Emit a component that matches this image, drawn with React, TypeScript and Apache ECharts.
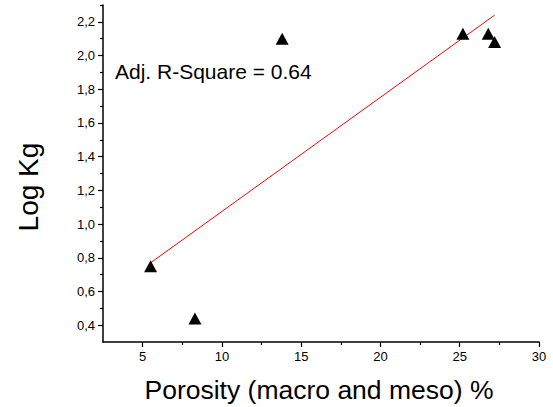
import React, { useEffect, useRef } from "react";
import * as echarts from "echarts";

const porosity = [5.5, 8.3, 13.8, 25.2, 26.8, 27.2];
const logKg = [0.75, 0.44, 2.1, 2.13, 2.13, 2.08];
const fitX = [5.5, 27.2];
const fitY = [0.77, 2.24];
const annotation = "Adj. R-Square = 0.64";
const xTitle = "Porosity (macro and meso) %";
const yTitle = "Log Kg";
const xMajor = [5, 10, 15, 20, 25, 30];
const xMinor = [7.5, 12.5, 17.5, 22.5, 27.5];
const yMajor = [0.4, 0.6, 0.8, 1.0, 1.2, 1.4, 1.6, 1.8, 2.0, 2.2];
const yMinor = [0.5, 0.7, 0.9, 1.1, 1.3, 1.5, 1.7, 1.9, 2.1, 2.3];

export default function App() {
  const ref = useRef<HTMLDivElement>(null);
  useEffect(() => {
    document.body.style.margin = "0";
    const chart = echarts.init(ref.current!, null, { renderer: "svg" });
    const font = "Liberation Sans, Arial, sans-serif";
    const tickStyle = { color: "#000", width: 1.2 };
    chart.setOption({
      animation: false,
      backgroundColor: "#fff",
      grid: { left: 103, right: 14, top: 5, bottom: 65 },
      xAxis: [
        {
          type: "value",
          min: 2.5,
          max: 30,
          axisLine: { onZero: false, lineStyle: { color: "#000", width: 1.5 } },
          axisTick: { show: true, length: 5, lineStyle: tickStyle, customValues: xMajor },
          axisLabel: { fontFamily: font, fontSize: 13, color: "#000", margin: 8, customValues: xMajor },
          splitLine: { show: false },
        },
        {
          type: "value",
          min: 2.5,
          max: 30,
          position: "bottom",
          axisLine: { show: false },
          axisLabel: { show: false },
          splitLine: { show: false },
          axisTick: { show: true, length: 3, lineStyle: tickStyle, customValues: xMinor },
        },
      ],
      yAxis: [
        {
          type: "value",
          min: 0.3,
          max: 2.3,
          axisLine: { onZero: false, lineStyle: { color: "#000", width: 1.5 } },
          axisTick: { show: true, length: 5, lineStyle: tickStyle, customValues: yMajor },
          axisLabel: {
            fontFamily: font,
            fontSize: 13,
            color: "#000",
            margin: 8,
            customValues: yMajor,
            formatter: (v: number) => v.toFixed(1).replace(".", ","),
          },
          splitLine: { show: false },
        },
        {
          type: "value",
          min: 0.3,
          max: 2.3,
          position: "left",
          axisLine: { show: false },
          axisLabel: { show: false },
          splitLine: { show: false },
          axisTick: { show: true, length: 3, lineStyle: tickStyle, customValues: yMinor },
        },
      ],
      series: [
        {
          type: "line",
          data: fitX.map((x, i) => [x, fitY[i]]),
          showSymbol: false,
          symbol: "none",
          lineStyle: { color: "#ff0000", width: 1 },
          z: 2,
        },
        {
          type: "scatter",
          data: porosity.map((x, i) => [x, logKg[i]]),
          symbol: "triangle",
          symbolSize: [13, 12],
          itemStyle: { color: "#000", opacity: 1 },
          z: 3,
        },
      ],
      graphic: [
        {
          type: "text",
          left: 115,
          top: 61,
          style: { text: annotation, fontFamily: font, fontSize: 21, fill: "#000" },
        },
        {
          type: "text",
          x: 319,
          y: 390,
          style: {
            text: xTitle,
            fontFamily: font,
            fontSize: 26.5,
            fill: "#000",
            textAlign: "center",
            textVerticalAlign: "middle",
          },
        },
        {
          type: "text",
          x: 28,
          y: 187,
          rotation: Math.PI / 2,
          style: {
            text: yTitle,
            fontFamily: font,
            fontSize: 28,
            fill: "#000",
            textAlign: "center",
            textVerticalAlign: "middle",
          },
        },
      ],
    });
    return () => chart.dispose();
  }, []);
  return <div ref={ref} style={{ width: 553, height: 407 }} />;
}
